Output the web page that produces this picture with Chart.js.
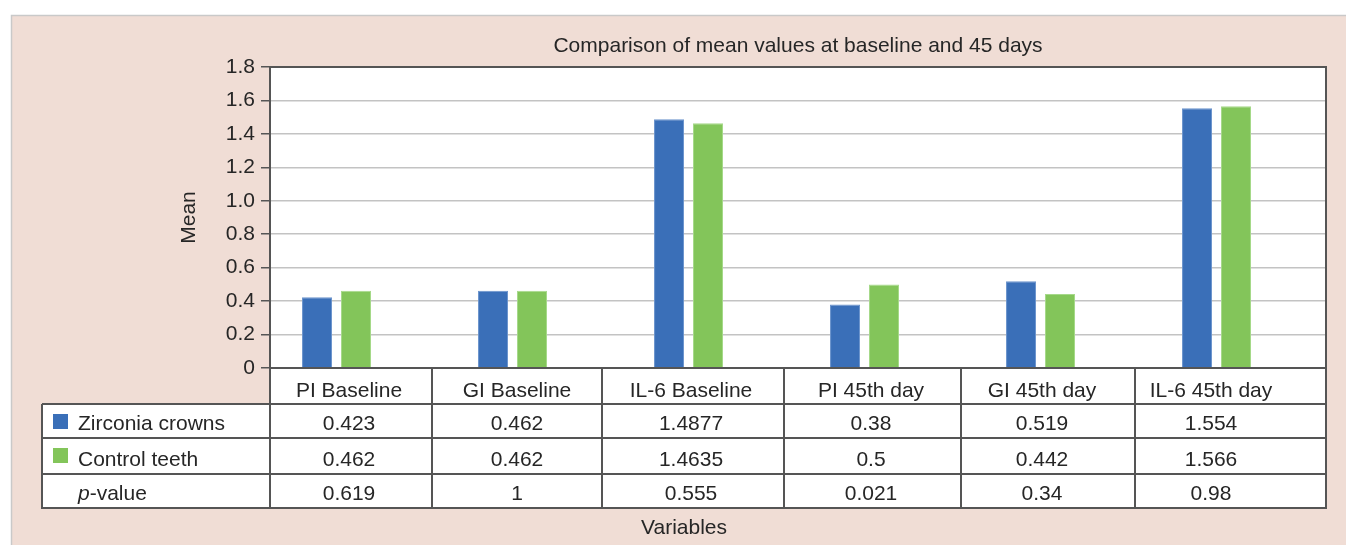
<!DOCTYPE html>
<html>
<head>
<meta charset="utf-8">
<style>
  html, body { margin: 0; padding: 0; background: #fff; overflow: hidden; }
  #wrap { width: 1346px; height: 545px; position: relative; }
</style>
<script src="https://cdn.jsdelivr.net/npm/chart.js@4.4.1/dist/chart.umd.min.js"></script>
</head>
<body>
<div id="wrap"><canvas id="c" width="1346" height="545"></canvas></div>
<script>
// ---- data ----
const categories = ['PI Baseline', 'GI Baseline', 'IL-6 Baseline', 'PI 45th day', 'GI 45th day', 'IL-6 45th day'];
const seriesNames = ['Zirconia crowns', 'Control teeth'];
const zirconia = [0.423, 0.462, 1.4877, 0.38, 0.519, 1.554];
const control = [0.462, 0.462, 1.4635, 0.5, 0.442, 1.566];
const pValues = [0.619, 1, 0.555, 0.021, 0.34, 0.98];
const yTicks = [0, 0.2, 0.4, 0.6, 0.8, 1.0, 1.2, 1.4, 1.6, 1.8];
const chartTitle = 'Comparison of mean values at baseline and 45 days';
const yTitle = 'Mean';
const xTitle = 'Variables';

// ---- styling / layout ----
const FONT = '"Liberation Sans", Arial, Helvetica, sans-serif';
const TEXT = '#262626';
const LINE = '#555555';
const GRID = '#c3c3c3';
const PINK = '#f0ddd5';
const BLUE = '#3a6fb8';
const GREEN = '#83c55a';
const groupShift = 0.122;              // bar groups sit a little left of the column centres
const table = {
  left: 42,
  colEdges: [432, 602, 784, 961, 1135], // inner column borders
  textX: [349, 517, 691, 871, 1042, 1211],
  rowBottoms: [404, 438, 474, 508],     // header row, then the three data rows
  swatchX: 53, swatchSize: 15, labelX: 78
};

const panelPlugin = {
  id: 'panel',
  beforeDraw(chart) {
    const ctx = chart.ctx, a = chart.chartArea;
    const bottom = table.rowBottoms[table.rowBottoms.length - 1];
    ctx.save();
    ctx.fillStyle = '#ffffff';
    ctx.fillRect(0, 0, chart.width, chart.height);
    ctx.fillStyle = PINK;
    ctx.fillRect(11, 15, chart.width - 11, chart.height - 15);
    ctx.strokeStyle = '#c9c9c9';
    ctx.lineWidth = 1.5;
    ctx.beginPath();
    ctx.moveTo(11.5, chart.height);
    ctx.lineTo(11.5, 15.5);
    ctx.lineTo(chart.width, 15.5);
    ctx.stroke();
    ctx.fillStyle = '#ffffff';
    ctx.fillRect(a.left, a.top, a.right - a.left, table.rowBottoms[0] - a.top);
    ctx.fillRect(table.left, table.rowBottoms[0], a.right - table.left, bottom - table.rowBottoms[0]);
    ctx.restore();
  },
  afterDraw(chart) {
    const ctx = chart.ctx, a = chart.chartArea;
    const rb = table.rowBottoms;
    const bottom = rb[rb.length - 1];
    const line = (x1, y1, x2, y2) => { ctx.beginPath(); ctx.moveTo(x1, y1); ctx.lineTo(x2, y2); ctx.stroke(); };
    ctx.save();
    ctx.strokeStyle = LINE;
    ctx.lineWidth = 2;
    // plot frame
    line(a.left - 1, a.top, a.right + 1, a.top);
    line(a.right, a.top, a.right, bottom + 1);
    line(a.left, a.top, a.left, bottom + 1);
    line(a.left, a.bottom, a.right, a.bottom);
    // table grid
    rb.forEach(y => line(table.left, y, a.right, y));
    line(table.left, rb[0], table.left, bottom + 1);
    table.colEdges.forEach(x => line(x, a.bottom, x, bottom + 1));

    // table text
    ctx.fillStyle = TEXT;
    ctx.font = '21px ' + FONT;
    ctx.textAlign = 'center';
    ctx.textBaseline = 'alphabetic';
    const baseline = i => rb[i] - 8;
    categories.forEach((c, i) => ctx.fillText(c, table.textX[i], baseline(0) + 1));
    zirconia.forEach((v, i) => ctx.fillText(String(v), table.textX[i], baseline(1)));
    control.forEach((v, i) => ctx.fillText(String(v), table.textX[i], baseline(2)));
    pValues.forEach((v, i) => ctx.fillText(String(v), table.textX[i], baseline(3)));

    // row headers with legend swatches
    ctx.textAlign = 'left';
    [BLUE, GREEN].forEach((col, k) => {
      const top = rb[k] + 10;
      ctx.fillStyle = col;
      ctx.fillRect(table.swatchX, top, table.swatchSize, table.swatchSize);
      ctx.fillStyle = TEXT;
      ctx.fillText(seriesNames[k], table.labelX, baseline(k + 1));
    });
    ctx.font = 'italic 21px ' + FONT;
    ctx.fillText('p', table.labelX, baseline(3));
    const pw = ctx.measureText('p').width;
    ctx.font = '21px ' + FONT;
    ctx.fillText('-value', table.labelX + pw, baseline(3));

    // x axis title below the table
    ctx.textAlign = 'center';
    ctx.fillText(xTitle, (table.left + a.right) / 2, 534);
    ctx.restore();
  }
};

new Chart(document.getElementById('c'), {
  type: 'bar',
  data: {
    datasets: [
      {
        label: seriesNames[0],
        data: zirconia.map((v, i) => ({ x: i, y: v })),
        backgroundColor: BLUE,
        borderColor: '#6a93cc',
        borderWidth: 1
      },
      {
        label: seriesNames[1],
        data: control.map((v, i) => ({ x: i, y: v })),
        backgroundColor: GREEN,
        borderColor: '#a6d98a',
        borderWidth: 1
      }
    ]
  },
  options: {
    responsive: false,
    devicePixelRatio: 1,
    animation: false,
    categoryPercentage: 0.443,
    barPercentage: 0.77,
    layout: { padding: { left: 0, right: 20, top: 34, bottom: 177 } },
    plugins: {
      legend: { display: false },
      tooltip: { enabled: false },
      title: {
        display: true,
        text: chartTitle,
        fullSize: false,
        color: TEXT,
        font: { family: FONT, size: 21, weight: 'normal' },
        padding: { top: 0, bottom: 7.8 }
      }
    },
    scales: {
      x: {
        type: 'linear',
        display: false,
        offset: false,
        min: -0.5 + groupShift,
        max: categories.length - 0.5 + groupShift,
        afterBuildTicks: s => { s.ticks = categories.map((_, i) => ({ value: i })); }
      },
      y: {
        min: 0,
        max: 1.8,
        afterBuildTicks: s => { s.ticks = yTicks.map(v => ({ value: v })); },
        afterFit: s => { s.width = 270; },
        ticks: {
          color: TEXT,
          font: { family: FONT, size: 21 },
          padding: 6,
          callback: v => (v === 0 ? '0' : Number(v).toFixed(1))
        },
        grid: {
          color: GRID,
          lineWidth: 1.5,
          tickColor: LINE,
          tickLength: 9,
          tickWidth: 1.5
        },
        border: { display: true, color: LINE, width: 2 },
        title: {
          display: true,
          text: yTitle,
          color: TEXT,
          font: { family: FONT, size: 21 },
          padding: { top: 177, bottom: 0 }
        }
      }
    }
  },
  plugins: [panelPlugin]
});
</script>
</body>
</html>
